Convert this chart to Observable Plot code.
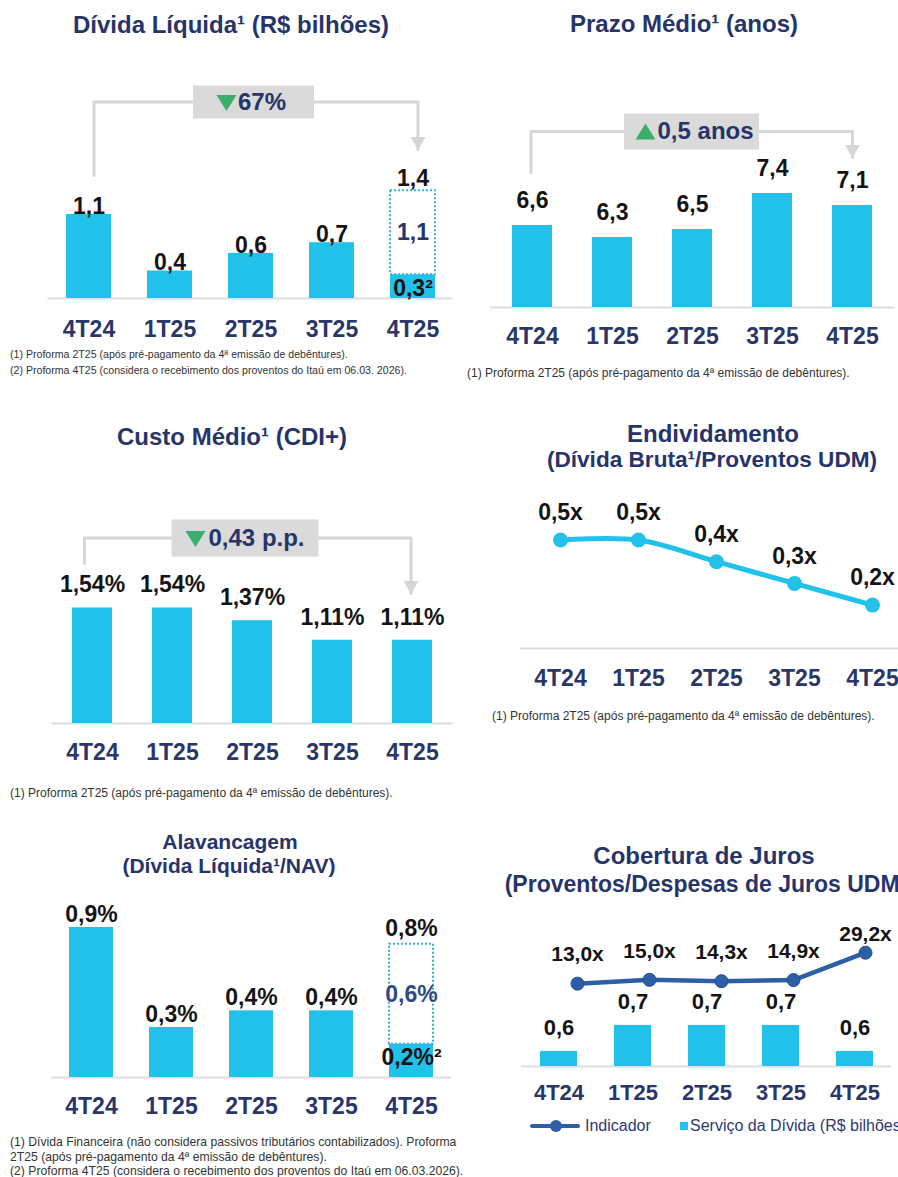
<!DOCTYPE html>
<html><head><meta charset="utf-8">
<script src="https://cdn.jsdelivr.net/npm/d3@7"></script>
<script src="https://cdn.jsdelivr.net/npm/@observablehq/plot@0.6"></script>
<style>
body{margin:0;background:#fff;}
#page{position:relative;width:898px;height:1177px;overflow:hidden;background:#fff;font-family:"Liberation Sans",Arial,sans-serif;}
.t{position:absolute;white-space:nowrap;transform:translate(-50%,-50%);font-weight:bold;color:#273469;font-size:24px;line-height:1;}
.fn{position:absolute;white-space:nowrap;font-size:12px;color:#333;line-height:1;transform:translateY(-50%);}
</style></head><body><div id="page"></div>
<script>
// ---------------- DATA ----------------
const quarters = ["4T24", "1T25", "2T25", "3T25", "4T25"];

// 1. Dívida Líquida (R$ bilhões)
const dividaLiquida = [1.10, 0.36, 0.59, 0.73, 0.31];
const dividaLiquidaProformaAdd = 1.10;   // dotted segment on 4T25
const dividaLiquidaVar = "67%";

// 2. Prazo Médio (anos)
const prazoMedio = [6.6, 6.3, 6.5, 7.4, 7.1];
const prazoMedioVar = "0,5 anos";

// 3. Custo Médio (CDI+), %
const custoMedio = [1.54, 1.54, 1.37, 1.11, 1.11];
const custoMedioVar = "0,43 p.p.";

// 4. Endividamento (Dívida Bruta/Proventos UDM), x
const endividamento = [0.50, 0.50, 0.40, 0.30, 0.20];

// 5. Alavancagem (Dívida Líquida/NAV), %
const alavancagem = [0.9, 0.3, 0.4, 0.4, 0.2];
const alavancagemProformaAdd = 0.6;

// 6. Cobertura de Juros
const coberturaIndicador = [13.0, 15.0, 14.3, 14.9, 29.2];
const servicoDivida = [0.6, 0.7, 0.7, 0.7, 0.6];

// ---------------- STYLE ----------------
const FONT = '"Liberation Sans", Arial, sans-serif';
const CYAN = "#22c1ea", DOTTED = "#35b3e4", NAVY = "#273469", AXISNAVY = "#2a3668", INK = "#141414";
const GRAYLINE = "#d4d6d8", GRAYBOX = "#dadada", GREEN = "#3aae6a", BASE = "#dcdee0", DARKBLUE = "#2d5fa6";
const loc = d3.formatLocale({decimal: ",", thousands: ".", grouping: [3], currency: ["R$ ", ""]});
const f1 = loc.format(".1f"), f2 = loc.format(".2f");

const page = document.getElementById("page");
function put(node, x, y) { node.style.position = "absolute"; node.style.left = x + "px"; node.style.top = y + "px"; page.appendChild(node); return node; }
function title(text, cx, cy, size) { const d = document.createElement("div"); d.className = "t"; d.textContent = text; d.style.left = cx + "px"; d.style.top = cy + "px"; if (size) d.style.fontSize = size + "px"; page.appendChild(d); }
function note(text, x, cy, size) { const d = document.createElement("div"); d.className = "fn"; d.textContent = text; d.style.left = x + "px"; d.style.top = cy + "px"; if (size) d.style.fontSize = size + "px"; page.appendChild(d); }

const rectSym = (w, h) => ({draw(c) { c.moveTo(-w/2, -h/2); c.lineTo(w/2, -h/2); c.lineTo(w/2, h/2); c.lineTo(-w/2, h/2); c.closePath(); }});
const triSym = (w, h, down) => ({draw(c) { const s = down ? 1 : -1; c.moveTo(-w/2, -s*h/2); c.lineTo(w/2, -s*h/2); c.lineTo(0, s*h/2); c.closePath(); }});
const baseStyle = {fontFamily: FONT, background: "transparent", overflow: "visible"};
const valText = {fontSize: 23, fontWeight: "bold", fill: INK};
const xAxis = (pad, size = 23) => Plot.axisX({tickSize: 0, tickPadding: pad, fontSize: size, fontWeight: "bold", color: AXISNAVY, label: null});

function bracket(c) {
  const left = [{x: c.xa, y: c.y0}, {x: c.xa, y: c.yTop}, {x: c.xm, y: c.yTop}];
  const right = [{x: c.xm, y: c.yTop}, {x: c.xb, y: c.yTop}, {x: c.xb, y: c.yTip}];
  const mid = [{x: c.xm, y: c.yTop, t: c.label}];
  return [
    Plot.line(left, {x: "x", y: "y", stroke: GRAYLINE, strokeWidth: 3, dx: c.dxa}),
    Plot.line(right, {x: "x", y: "y", stroke: GRAYLINE, strokeWidth: 3, dx: c.dxb}),
    Plot.dot([{x: c.xb, y: c.yTip}], {x: "x", y: "y", symbol: triSym(15, 13, true), fill: GRAYLINE, dx: c.dxb, dy: -6}),
    Plot.dot(mid, {x: "x", y: "y", symbol: rectSym(c.boxW, c.boxH), fill: GRAYBOX, dx: c.dxBox}),
    Plot.dot(mid, {x: "x", y: "y", symbol: triSym(20, 16, c.down), fill: GREEN, dx: c.dxTri, dy: c.down ? 1 : 0}),
    Plot.text(mid, {x: "x", y: "y", text: "t", textAnchor: "start", dx: c.dxText, fontSize: 24, fontWeight: "bold", fill: NAVY})
  ];
}

// ---------------- PANEL 1: Dívida Líquida ----------------
{
  const data = quarters.map((q, i) => ({q, v: dividaLiquida[i]}));
  const last = data[data.length - 1];
  const pro = [{q: last.q, y1: last.v, y2: last.v + dividaLiquidaProformaAdd, add: dividaLiquidaProformaAdd}];
  const svg = Plot.plot({
    width: 460, height: 345, marginLeft: 47.5, marginRight: 7.5, marginTop: 0, marginBottom: 47,
    style: baseStyle,
    x: {domain: quarters, paddingInner: 0.45, paddingOuter: 0.225, label: null},
    y: {domain: [0, 3.9], axis: null},
    marks: [
      Plot.ruleY([0], {stroke: BASE, strokeWidth: 2}),
      Plot.barY(data, {x: "q", y: "v", fill: CYAN}),
      Plot.barY(pro, {x: "q", y1: "y1", y2: "y2", fill: "none", stroke: DOTTED, strokeWidth: 2, strokeDasharray: "2,2"}),
      Plot.text(data.slice(0, 4), {x: "q", y: "v", text: d => f1(d.v), dy: -8, ...valText}),
      Plot.text([last], {x: "q", y: "v", text: d => f1(d.v) + "²", dy: 14, ...valText}),
      Plot.text(pro, {x: "q", y: "y2", text: d => f1(d.y2), dy: -12, ...valText}),
      Plot.text(pro, {x: "q", y: d => (d.y1 + d.y2) / 2, text: d => f1(d.add), ...valText, fill: NAVY}),
      ...bracket({xa: "4T24", xb: "4T25", xm: "2T25", y0: 1.61, yTop: 2.572, yTip: 1.95, dxa: 5, dxb: 5,
                  dxBox: 2.5, boxW: 121, boxH: 33, label: dividaLiquidaVar, down: true, dxTri: -24.5, dxText: -13}),
      xAxis(22)
    ]
  });
  put(svg, 0, 0);
  title("Dívida Líquida¹ (R$ bilhões)", 231, 25);
  note("(1) Proforma 2T25 (após pré-pagamento da 4ª emissão de debêntures).", 10, 354, 10.6);
  note("(2) Proforma 4T25 (considera o recebimento dos proventos do Itaú em 06.03. 2026).", 10, 370, 10.6);
}

// ---------------- PANEL 2: Prazo Médio ----------------
{
  const yMin = 4.55;
  const data = quarters.map((q, i) => ({q, v: prazoMedio[i]}));
  const svg = Plot.plot({
    width: 438, height: 350, marginLeft: 30, marginRight: 3.5, marginTop: 0, marginBottom: 43,
    style: baseStyle,
    x: {domain: quarters, paddingInner: 0.506, paddingOuter: 0.253, label: null},
    y: {domain: [yMin, yMin + 307 / 40], axis: null},
    marks: [
      Plot.ruleY([yMin], {stroke: BASE, strokeWidth: 2}),
      Plot.barY(data, {x: "q", y1: yMin, y2: "v", fill: CYAN}),
      Plot.text(data, {x: "q", y: "v", text: d => f1(d.v), dy: -25, ...valText}),
      ...bracket({xa: "4T24", xb: "4T25", xm: "2T25", y0: 7.925, yTop: 8.95, yTip: 8.3, dxa: -1.5, dxb: 0,
                  dxBox: -1, boxW: 135, boxH: 36, label: prazoMedioVar, down: false, dxTri: -47, dxText: -35}),
      xAxis(20)
    ]
  });
  put(svg, 460, 0);
  title("Prazo Médio¹ (anos)", 684, 24);
  note("(1) Proforma 2T25 (após pré-pagamento da 4ª emissão de debêntures).", 467, 373);
}

// ---------------- PANEL 3: Custo Médio ----------------
{
  const data = quarters.map((q, i) => ({q, v: custoMedio[i]}));
  const svg = Plot.plot({
    width: 460, height: 365, marginLeft: 51.6, marginRight: 7.4, marginTop: 0, marginBottom: 42,
    style: baseStyle,
    x: {domain: quarters, paddingInner: 0.5, paddingOuter: 0.25, label: null},
    y: {domain: [0, 323 / 75], axis: null},
    marks: [
      Plot.ruleY([0], {stroke: BASE, strokeWidth: 2}),
      Plot.barY(data, {x: "q", y: "v", fill: CYAN}),
      Plot.text(data, {x: "q", y: "v", text: d => f2(d.v) + "%", dy: -23, ...valText}),
      ...bracket({xa: "4T24", xb: "4T25", xm: "2T25", y0: 2.133, yTop: 2.473, yTip: 1.733, dxa: -8, dxb: -1.5,
                  dxBox: -7.5, boxW: 147, boxH: 37, label: custoMedioVar, down: true, dxTri: -57, dxText: -44}),
      xAxis(20)
    ]
  });
  put(svg, 0, 400);
  title("Custo Médio¹ (CDI+)", 232, 437);
  note("(1) Proforma 2T25 (após pré-pagamento da 4ª emissão de debêntures).", 10, 793);
}

// ---------------- PANEL 4: Endividamento ----------------
{
  const data = quarters.map((q, i) => ({q, v: endividamento[i]}));
  const svg = Plot.plot({
    width: 480, height: 295, marginLeft: 60, marginRight: 29, marginTop: 0, marginBottom: 47,
    style: baseStyle,
    x: {type: "point", domain: quarters, padding: 0.5, label: null},
    y: {domain: [0, 248 / 217], axis: null},
    marks: [
      Plot.ruleY([0], {stroke: BASE, strokeWidth: 2}),
      Plot.line(data, {x: "q", y: "v", stroke: CYAN, strokeWidth: 5, curve: "catmull-rom"}),
      Plot.dot(data, {x: "q", y: "v", r: 7.5, fill: CYAN}),
      Plot.text(data, {x: "q", y: "v", text: d => f1(d.v) + "x", dy: -27, ...valText}),
      xAxis(21)
    ]
  });
  put(svg, 460, 400);
  title("Endividamento", 713, 434);
  title("(Dívida Bruta¹/Proventos UDM)", 712, 460, 22.6);
  note("(1) Proforma 2T25 (após pré-pagamento da 4ª emissão de debêntures).", 492, 716);
}

// ---------------- PANEL 5: Alavancagem ----------------
{
  const data = quarters.map((q, i) => ({q, v: alavancagem[i]}));
  const last = data[data.length - 1];
  const pro = [{q: last.q, y1: last.v, y2: last.v + alavancagemProformaAdd, add: alavancagemProformaAdd}];
  const svg = Plot.plot({
    width: 460, height: 300, marginLeft: 51, marginRight: 9, marginTop: 0, marginBottom: 43,
    style: baseStyle,
    x: {domain: quarters, paddingInner: 0.45, paddingOuter: 0.225, label: null},
    y: {domain: [0, 257 / 166.7], axis: null},
    marks: [
      Plot.ruleY([0], {stroke: BASE, strokeWidth: 2}),
      Plot.barY(data, {x: "q", y: "v", fill: CYAN}),
      Plot.barY(pro, {x: "q", y1: "y1", y2: "y2", fill: "none", stroke: DOTTED, strokeWidth: 2, strokeDasharray: "2,2"}),
      Plot.text(data.slice(0, 4), {x: "q", y: "v", text: d => f1(d.v) + "%", dy: -13, ...valText}),
      Plot.text([last], {x: "q", y: "v", text: d => f1(d.v) + "%²", dy: 13, ...valText}),
      Plot.text(pro, {x: "q", y: "y2", text: d => f1(d.y2) + "%", dy: -16, ...valText}),
      Plot.text(pro, {x: "q", y: d => (d.y1 + d.y2) / 2, text: d => f1(d.add) + "%", ...valText, fill: "#2d4a85"}),
      xAxis(20)
    ]
  });
  put(svg, 0, 820);
  title("Alavancagem", 230, 841, 21);
  title("(Dívida Líquida¹/NAV)", 229, 865, 21);
  note("(1) Dívida Financeira (não considera passivos tributários contabilizados). Proforma", 10, 1142, 12.2);
  note("2T25 (após pré-pagamento da 4ª emissão de debêntures).", 10, 1157, 12.2);
  note("(2) Proforma 4T25 (considera o recebimento dos proventos do Itaú em 06.03.2026).", 10, 1171, 12.2);
}

// ---------------- PANEL 6: Cobertura de Juros ----------------
{
  const yMin = 0.542;
  const bars = quarters.map((q, i) => ({q, v: servicoDivida[i]}));
  const line = quarters.map((q, i) => ({q, v: coberturaIndicador[i]}));
  const svgBars = Plot.plot({
    width: 438, height: 300, marginLeft: 61, marginRight: 7, marginTop: 0, marginBottom: 54,
    style: baseStyle,
    x: {domain: quarters, paddingInner: 0.5, paddingOuter: 0.25, label: null},
    y: {domain: [yMin, yMin + 246 / 260], axis: null},
    marks: [
      Plot.ruleY([yMin], {stroke: BASE, strokeWidth: 2}),
      Plot.barY(bars, {x: "q", y1: yMin, y2: "v", fill: CYAN}),
      Plot.text(bars, {x: "q", y: "v", text: d => f1(d.v), dy: -23, ...valText, fontSize: 22}),
      xAxis(18, 22)
    ]
  });
  put(svgBars, 460, 820);
  const svgLine = Plot.plot({
    width: 480, height: 300, marginLeft: 80, marginRight: 39, marginTop: 0, marginBottom: 112,
    style: baseStyle,
    x: {type: "point", domain: quarters, padding: 0.5, axis: null},
    y: {domain: [0, 188 / 1.91], axis: null},
    marks: [
      Plot.line(line, {x: "q", y: "v", stroke: DARKBLUE, strokeWidth: 4.5}),
      Plot.dot(line, {x: "q", y: "v", r: 6.5, fill: DARKBLUE, stroke: "#24508f", strokeWidth: 1}),
      Plot.text(line.slice(0, 4), {x: "q", y: "v", text: d => f1(d.v) + "x", dy: -29, ...valText, fontSize: 21}),
      Plot.text(line.slice(4), {x: "q", y: "v", text: d => f1(d.v) + "x", dy: -18, ...valText, fontSize: 21})
    ]
  });
  svgLine.style.pointerEvents = "none";
  put(svgLine, 460, 820);
  title("Cobertura de Juros", 704, 856);
  title("(Proventos/Despesas de Juros UDM)", 706, 884, 23);

  // legend
  const lg = document.createElement("div");
  lg.style.cssText = "width:380px;height:20px;font-size:16px;color:#2b3a70;";
  lg.innerHTML =
    '<span style="position:absolute;left:0;top:8px;width:50px;height:4px;background:' + DARKBLUE + ';border-radius:2px"></span>' +
    '<span style="position:absolute;left:20px;top:4px;width:12px;height:12px;border-radius:50%;background:' + DARKBLUE + '"></span>' +
    '<span style="position:absolute;left:55px;top:1px;white-space:nowrap">Indicador</span>' +
    '<span style="position:absolute;left:150px;top:6px;width:8px;height:8px;background:' + CYAN + '"></span>' +
    '<span style="position:absolute;left:160px;top:1px;white-space:nowrap">Serviço da Dívida (R$ bilhões)</span>';
  put(lg, 530, 1116);
}
</script></body></html>
